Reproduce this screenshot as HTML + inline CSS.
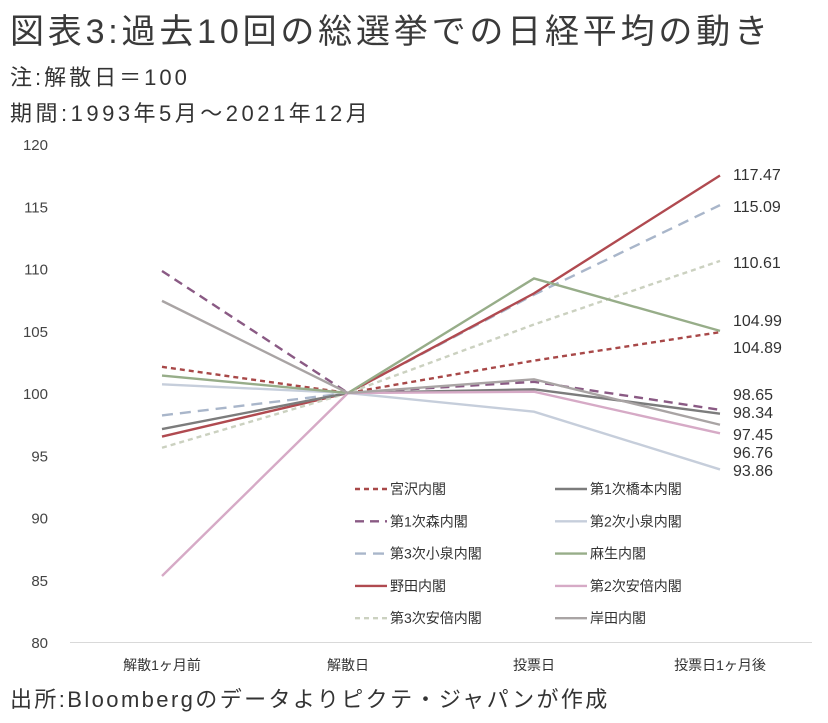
<!DOCTYPE html>
<html><head><meta charset="utf-8"><style>
body{margin:0;background:#fff;width:828px;height:723px;overflow:hidden;font-family:"Liberation Sans","Noto Sans CJK JP",sans-serif;color:#333}
.t{position:absolute;left:10px;white-space:nowrap}
</style></head><body>
<div class="t" style="top:4px;font-size:34px;letter-spacing:3.8px;color:#3a3a3a">図表3:過去10回の総選挙での日経平均の動き</div>
<div class="t" style="top:60px;font-size:22px;letter-spacing:3px">注:解散日＝100</div>
<div class="t" style="top:96px;font-size:22px;letter-spacing:3.5px">期間:1993年5月～2021年12月</div>
<div class="t" style="top:682px;font-size:22px;letter-spacing:2.4px">出所:Bloombergのデータよりピクテ・ジャパンが作成</div>
<svg id="c" width="828" height="723" style="position:absolute;left:0;top:0"></svg>
<script>
const categories=["解散1ヶ月前","解散日","投票日","投票日1ヶ月後"];
const yTicks=[80,85,90,95,100,105,110,115,120];
const names=["宮沢内閣","第1次森内閣","第3次小泉内閣","野田内閣","第3次安倍内閣","第1次橋本内閣","第2次小泉内閣","麻生内閣","第2次安倍内閣","岸田内閣"];
const miyazawa=[102.1,100,102.6,104.89];
const mori=[109.8,100,100.9,98.65];
const koizumi3=[98.2,100,107.9,115.09];
const noda=[96.5,100,108.0,117.47];
const abe3=[95.6,100,105.5,110.61];
const hashimoto=[97.1,100,100.3,98.34];
const koizumi2=[100.7,100,98.5,93.86];
const aso=[101.4,100,109.2,104.99];
const abe2=[85.3,100,100.1,96.76];
const kishida=[107.4,100,101.1,97.45];
const endLabels=["117.47","115.09","110.61","104.99","104.89","98.65","98.34","97.45","96.76","93.86"];
const series=[miyazawa,mori,koizumi3,noda,abe3,hashimoto,koizumi2,aso,abe2,kishida];
const colors=["#a84848","#8a5a84","#a9b6ca","#b04a50","#cbd1c0","#7c7c7c","#c6cedb","#97ad89","#d6aac6","#a9a4a4"];
const dashes=["5,4","9,6","11,7",null,"5,4",null,null,null,null,null];
const NS="http://www.w3.org/2000/svg";
const svg=document.getElementById('c');
const x=i=>162+i*186;
const y=v=>642-(v-80)*(498/40);
function mk(t,a){const e=document.createElementNS(NS,t);for(const k in a)e.setAttribute(k,a[k]);svg.appendChild(e);return e;}
yTicks.forEach(v=>{const t=mk('text',{x:48,y:y(v)+6,'text-anchor':'end','font-size':15,fill:'#444'});t.textContent=v;

});
mk('line',{x1:70,x2:812,y1:642.5,y2:642.5,stroke:'#d9d9d9','stroke-width':1});
categories.forEach((c,i)=>{const t=mk('text',{x:x(i),y:670,'text-anchor':'middle','font-size':14,fill:'#333'});t.textContent=c;

});
series.forEach((s,k)=>{const p=mk('polyline',{points:s.map((v,i)=>x(i)+','+y(v)).join(' '),fill:'none',stroke:colors[k],'stroke-width':2.4});
if(dashes[k])p.setAttribute('stroke-dasharray',dashes[k]);

});
const labelY=[174,206,262,320,347,394,412,434,452,470];
endLabels.forEach((l,i)=>{const t=mk('text',{x:733,y:labelY[i]+6,'font-size':16,fill:'#333'});t.textContent=l;

});
const legOrder=[0,5,1,6,2,7,3,8,4,9];
legOrder.forEach((k,j)=>{const col=j%2,row=Math.floor(j/2);const lx=355+col*200,ly=489+row*32.3;
const l=mk('line',{x1:lx,x2:lx+32,y1:ly,y2:ly,stroke:colors[k],'stroke-width':2.4});
if(dashes[k])l.setAttribute('stroke-dasharray',dashes[k]);


const t=mk('text',{x:lx+35,y:ly+5,'font-size':14,fill:'#333'});t.textContent=names[k];

});
</script>
</body></html>
